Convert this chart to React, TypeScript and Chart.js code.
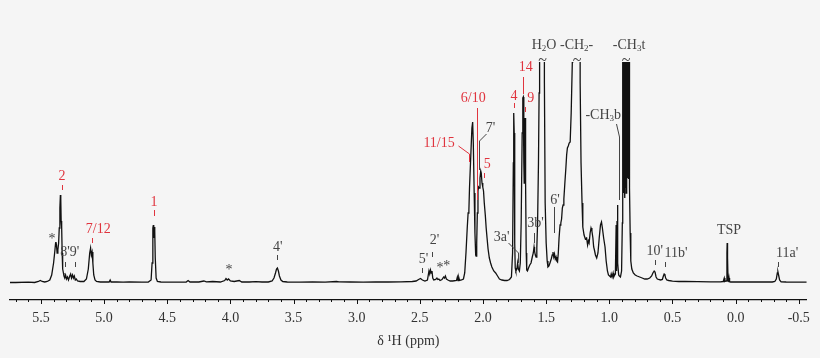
import { useEffect, useRef } from 'react';
import { Chart, registerables } from 'chart.js';

Chart.register(...registerables);

// ---- data: [chemical shift (ppm), intensity] ----
const SPECTRUM: [number, number][] = [
  [5.745, 0.5], [5.7, 0.5], [5.6, 0.8], [5.55, 0.5], [5.52, 1.5], [5.505, 2.5], [5.49, 1.5], [5.47, 1],
  [5.45, 1.5], [5.43, 3], [5.415, 8], [5.4, 20], [5.39, 32], [5.384, 40], [5.381, 41], [5.377, 38],
  [5.372, 30], [5.366, 33], [5.36, 40], [5.355, 55], [5.35, 75], [5.346, 88], [5.343, 84], [5.34, 62],
  [5.336, 56], [5.332, 30], [5.328, 14], [5.322, 10], [5.318, 7], [5.312, 5], [5.305, 8], [5.298, 4],
  [5.29, 6], [5.282, 3], [5.272, 7], [5.265, 9], [5.258, 5], [5.25, 8], [5.243, 5], [5.236, 7],
  [5.228, 3], [5.22, 4], [5.21, 2], [5.19, 1.5], [5.16, 1.5], [5.14, 4], [5.125, 14], [5.114, 30],
  [5.107, 35], [5.101, 28], [5.095, 31], [5.089, 20], [5.082, 8], [5.072, 3], [5.06, 1.5], [5.03, 1],
  [5.0, 1.2], [4.96, 1], [4.952, 3], [4.945, 1], [4.9, 1], [4.85, 0.8], [4.8, 1], [4.7, 0.8],
  [4.65, 1], [4.628, 3], [4.62, 20], [4.614, 55], [4.61, 58], [4.607, 45], [4.603, 56], [4.599, 52],
  [4.595, 25], [4.588, 5], [4.578, 1.5], [4.55, 1], [4.45, 0.8], [4.35, 1], [4.335, 2.5], [4.32, 1],
  [4.25, 1], [4.21, 2], [4.19, 1.2], [4.14, 1.5], [4.08, 1], [4.045, 2.5], [4.035, 4.5], [4.025, 3],
  [4.015, 4], [4.0, 2], [3.97, 1.5], [3.93, 2.5], [3.91, 1], [3.85, 1], [3.8, 1.3], [3.75, 1],
  [3.7, 1], [3.67, 2], [3.655, 5], [3.643, 10], [3.635, 14], [3.628, 15], [3.62, 12], [3.612, 7],
  [3.6, 3], [3.585, 1.5], [3.55, 1], [3.45, 0.8], [3.35, 1], [3.25, 0.8], [3.16, 1.5], [3.14, 1.2],
  [3.05, 1], [2.95, 0.8], [2.85, 1], [2.75, 1], [2.65, 1.2], [2.56, 1.5], [2.53, 2], [2.51, 3.5],
  [2.495, 4.5], [2.48, 3], [2.46, 2], [2.44, 3], [2.428, 12], [2.422, 9], [2.416, 13], [2.41, 10],
  [2.404, 12], [2.398, 5], [2.39, 3], [2.375, 3.5], [2.365, 5], [2.358, 3.5], [2.35, 4], [2.34, 2.5],
  [2.325, 3.5], [2.312, 6], [2.305, 5], [2.298, 7], [2.29, 4], [2.278, 3], [2.26, 2], [2.24, 2],
  [2.21, 2.5], [2.203, 6], [2.198, 2.5], [2.192, 5.5], [2.186, 2.5], [2.17, 3], [2.155, 4], [2.145, 10],
  [2.135, 30], [2.125, 55], [2.118, 70], [2.112, 72], [2.107, 95], [2.096, 130], [2.088, 155], [2.082, 161],
  [2.077, 140], [2.07, 90], [2.064, 50], [2.058, 28], [2.055, 27], [2.05, 40], [2.045, 70], [2.04, 92],
  [2.035, 96], [2.03, 95], [2.024, 105], [2.018, 112], [2.014, 110], [2.008, 100], [2.002, 96], [1.996, 92],
  [1.99, 80], [1.982, 68], [1.975, 55], [1.968, 45], [1.96, 34], [1.95, 25], [1.94, 20], [1.93, 16],
  [1.915, 12], [1.9, 10], [1.885, 7], [1.87, 4], [1.85, 3], [1.83, 2.5], [1.81, 2.5], [1.79, 3.5],
  [1.775, 6], [1.766, 30], [1.76, 120], [1.757, 170], [1.753, 150], [1.749, 40], [1.745, 15], [1.74, 12],
  [1.732, 14], [1.726, 20], [1.72, 14], [1.712, 12], [1.705, 20], [1.698, 60], [1.69, 150], [1.685, 185],
  [1.681, 186], [1.677, 120], [1.674, 100], [1.67, 160], [1.667, 165], [1.663, 100], [1.658, 30], [1.654, 13],
  [1.648, 12], [1.64, 15], [1.63, 18], [1.62, 20], [1.61, 26], [1.602, 30], [1.596, 36], [1.592, 32],
  [1.586, 28], [1.58, 26], [1.574, 35], [1.568, 60], [1.561, 120], [1.556, 190], [1.552, 260], [1.548, 1500],
  [1.52, 1500], [1.514, 200], [1.508, 80], [1.5, 40], [1.492, 22], [1.486, 16], [1.478, 17], [1.47, 20],
  [1.46, 24], [1.452, 28], [1.446, 31], [1.44, 26], [1.434, 29], [1.428, 24], [1.422, 26], [1.416, 22],
  [1.41, 21], [1.404, 30], [1.398, 45], [1.39, 58], [1.384, 60], [1.378, 64], [1.372, 75], [1.366, 78],
  [1.36, 84], [1.352, 100], [1.344, 115], [1.338, 128], [1.332, 135], [1.325, 137], [1.318, 140], [1.31, 141],
  [1.302, 170], [1.293, 221], [1.29, 1500], [1.235, 1500], [1.231, 200], [1.224, 120], [1.216, 80], [1.21, 56],
  [1.2, 48], [1.19, 44], [1.18, 45], [1.172, 38], [1.166, 42], [1.16, 40], [1.152, 50], [1.145, 55],
  [1.138, 52], [1.13, 45], [1.124, 36], [1.118, 33], [1.11, 28], [1.1, 25], [1.09, 30], [1.08, 45],
  [1.07, 58], [1.062, 61], [1.055, 55], [1.045, 45], [1.034, 36], [1.025, 22], [1.015, 12], [1.007, 8],
  [0.998, 7], [0.99, 6], [0.985, 9], [0.978, 6], [0.97, 10], [0.965, 6], [0.958, 8], [0.952, 9],
  [0.946, 58], [0.943, 12], [0.939, 62], [0.936, 78], [0.932, 20], [0.926, 8], [0.92, 7], [0.912, 6],
  [0.903, 12], [0.897, 60], [0.894, 1500], [0.8915, 95], [0.889, 1500], [0.8865, 90], [0.884, 1500], [0.8815, 100],
  [0.879, 1500], [0.8765, 85], [0.874, 1500], [0.8715, 95], [0.869, 1500], [0.8665, 90], [0.864, 1500], [0.8615, 100],
  [0.859, 1500], [0.8565, 105], [0.854, 1500], [0.8515, 108], [0.849, 1200], [0.8465, 104], [0.844, 600], [0.8415, 106],
  [0.839, 95], [0.835, 50], [0.83, 22], [0.822, 14], [0.81, 10], [0.795, 8], [0.78, 7],
  [0.76, 6], [0.74, 5], [0.72, 4], [0.7, 4], [0.68, 5], [0.665, 7], [0.655, 10], [0.645, 12],
  [0.638, 11], [0.63, 6], [0.62, 4], [0.61, 3.5], [0.595, 3], [0.58, 3.5], [0.572, 7], [0.566, 9],
  [0.56, 8], [0.554, 5], [0.545, 3], [0.53, 2.5], [0.5, 1.8], [0.45, 1.5], [0.4, 1.5], [0.3, 1.3],
  [0.2, 1.2], [0.12, 1.2], [0.1, 1.5], [0.095, 3], [0.09, 5], [0.085, 1.5], [0.074, 2], [0.069, 30],
  [0.067, 40], [0.064, 25], [0.06, 2], [0.055, 1.5], [0.052, 5], [0.048, 1.5], [0.04, 1], [0.0, 1],
  [-0.1, 1], [-0.2, 1], [-0.29, 1], [-0.31, 1.5], [-0.322, 4], [-0.33, 10], [-0.335, 11], [-0.34, 8],
  [-0.348, 3], [-0.36, 1.2], [-0.4, 1], [-0.5, 0.8], [-0.563, 0.8],
];

const X_TICKS = [5.5, 5.0, 4.5, 4.0, 3.5, 3.0, 2.5, 2.0, 1.5, 1.0, 0.5, 0.0, -0.5];
const X_TITLE = 'δ ¹H (ppm)';

// ---- layout / style ----
const X_MIN = -0.563;
const X_MAX = 5.745;
const Y_MIN = -17;
const Y_MAX = 221;
const BG = '#f5f5f5';
const GRAY = '#444444';
const RED = '#e0343e';
const FONT = '"Liberation Serif", "Times New Roman", serif';

type Part = { t: string; sub?: boolean };
type Ann = { parts: Part[]; ppm: number; y: number; red?: boolean; size?: number; lines?: [number, number][][] };

const P = (t: string): Part[] => [{ t }];

const ANNOTATIONS: Ann[] = [
  { parts: P('*'), ppm: 5.413, y: 239 },
  { parts: P('2'), ppm: 5.334, y: 176, red: true, lines: [[[5.334, 185], [5.334, 190]]] },
  { parts: P("8'9'"), ppm: 5.272, y: 252, lines: [[[5.31, 262], [5.31, 267]], [[5.23, 262], [5.23, 267]]] },
  { parts: P('7/12'), ppm: 5.046, y: 229, red: true, lines: [[[5.096, 238], [5.096, 243]]] },
  { parts: P('1'), ppm: 4.605, y: 202, red: true, lines: [[[4.605, 210], [4.605, 216]]] },
  { parts: P('*'), ppm: 4.011, y: 270 },
  { parts: P("4'"), ppm: 3.625, y: 247, lines: [[[3.631, 255], [3.631, 260]]] },
  { parts: P("5'"), ppm: 2.472, y: 259, lines: [[[2.486, 268], [2.486, 273]]] },
  { parts: P("2'"), ppm: 2.385, y: 240, lines: [[[2.407, 252], [2.407, 257]]] },
  { parts: P('*'), ppm: 2.341, y: 268 },
  { parts: P('*'), ppm: 2.288, y: 266 },
  { parts: P('11/15'), ppm: 2.348, y: 143, red: true, lines: [[[2.196, 146], [2.111, 154], [2.111, 162]]] },
  { parts: P("7'"), ppm: 1.94, y: 128, lines: [[[1.98, 134], [2.03, 141], [2.03, 170]]] },
  { parts: P('6/10'), ppm: 2.077, y: 98, red: true, lines: [[[2.046, 108], [2.046, 200]]] },
  { parts: P('5'), ppm: 1.966, y: 164, red: true, lines: [[[1.99, 173], [1.99, 178]]] },
  { parts: P('4'), ppm: 1.755, y: 96, red: true, lines: [[[1.755, 103], [1.755, 108]]] },
  { parts: P('14'), ppm: 1.662, y: 67, red: true, lines: [[[1.684, 77], [1.684, 94]]] },
  { parts: P('9'), ppm: 1.623, y: 98, red: true, lines: [[[1.668, 107], [1.668, 112]]] },
  { parts: P("3a'"), ppm: 1.853, y: 237, lines: [[[1.8, 243], [1.726, 253], [1.726, 263]]] },
  { parts: P("3b'"), ppm: 1.585, y: 223, lines: [[[1.594, 233], [1.594, 243]]] },
  { parts: [{ t: 'H' }, { t: '2', sub: true }, { t: 'O' }], ppm: 1.517, y: 45 },
  { parts: P('~'), ppm: 1.528, y: 61, size: 16 },
  { parts: [{ t: '-CH' }, { t: '2', sub: true }, { t: '-' }], ppm: 1.259, y: 45 },
  { parts: P('~'), ppm: 1.256, y: 61, size: 16 },
  { parts: [{ t: '-CH' }, { t: '3', sub: true }, { t: 't' }], ppm: 0.844, y: 45 },
  { parts: P('~'), ppm: 0.868, y: 61, size: 16 },
  { parts: [{ t: '-CH' }, { t: '3', sub: true }, { t: 'b' }], ppm: 1.048, y: 115, lines: [[[0.947, 124], [0.924, 137], [0.924, 200]]] },
  { parts: P("6'"), ppm: 1.43, y: 200, lines: [[[1.438, 207], [1.438, 233]]] },
  { parts: P("10'"), ppm: 0.641, y: 251, lines: [[[0.639, 260], [0.639, 265]]] },
  { parts: P("11b'"), ppm: 0.472, y: 253, lines: [[[0.557, 262], [0.557, 267]]] },
  { parts: P('TSP'), ppm: 0.053, y: 230 },
  { parts: P("11a'"), ppm: -0.407, y: 253, lines: [[[-0.338, 262], [-0.338, 267]]] },
];

const bgPlugin = {
  id: 'bg',
  beforeDraw(chart: any) {
    const { ctx, width, height } = chart;
    ctx.save();
    ctx.fillStyle = BG;
    ctx.fillRect(0, 0, width, height);
    ctx.restore();
  },
};

const tickPlugin = {
  id: 'ppmTicks',
  afterDraw(chart: any) {
    const { ctx } = chart;
    const xs = chart.scales.x;
    const y0 = chart.chartArea.bottom;
    ctx.save();
    ctx.strokeStyle = '#111';
    ctx.lineWidth = 1;
    for (let i = -5; i <= 57; i++) {
      const v = i / 10;
      if (v < X_MIN || v > X_MAX) continue;
      const px = Math.round(xs.getPixelForValue(v)) + 0.5;
      const len = i % 5 === 0 ? 4 : 2;
      ctx.beginPath();
      ctx.moveTo(px, y0);
      ctx.lineTo(px, y0 + len);
      ctx.stroke();
    }
    ctx.restore();
  },
};

const annotationPlugin = {
  id: 'peakLabels',
  afterDraw(chart: any) {
    const { ctx } = chart;
    const xs = chart.scales.x;
    ctx.save();
    for (const a of ANNOTATIONS) {
      const color = a.red ? RED : GRAY;
      ctx.strokeStyle = color;
      ctx.lineWidth = 1;
      for (const pl of a.lines ?? []) {
        ctx.beginPath();
        pl.forEach(([p, y], i) => {
          const X = Math.round(xs.getPixelForValue(p)) + 0.5;
          if (i === 0) ctx.moveTo(X, y);
          else ctx.lineTo(X, y);
        });
        ctx.stroke();
      }
      const size = a.size ?? 14;
      const mainFont = `${size}px ${FONT}`;
      const subFont = `9px ${FONT}`;
      let total = 0;
      const widths = a.parts.map((p) => {
        ctx.font = p.sub ? subFont : mainFont;
        const w = ctx.measureText(p.t).width;
        total += w;
        return w;
      });
      let x = xs.getPixelForValue(a.ppm) - total / 2;
      ctx.fillStyle = color;
      ctx.textAlign = 'left';
      ctx.textBaseline = 'middle';
      a.parts.forEach((p, i) => {
        ctx.font = p.sub ? subFont : mainFont;
        ctx.fillText(p.t, x, p.sub ? a.y + 4 : a.y);
        x += widths[i];
      });
    }
    ctx.restore();
  },
};

export default function App() {
  const ref = useRef<HTMLCanvasElement>(null);

  useEffect(() => {
    if (!ref.current) return;
    Chart.defaults.font.family = FONT;
    const chart = new Chart(ref.current, {
      type: 'line',
      data: {
        datasets: [
          {
            data: SPECTRUM.map(([x, y]) => ({ x, y })),
            borderColor: '#111111',
            borderWidth: 1.3,
            pointRadius: 0,
            tension: 0,
            fill: false,
          },
        ],
      },
      options: {
        animation: false,
        responsive: false,
        devicePixelRatio: 1,
        events: [],
        layout: { padding: { left: 10, right: 13, top: 62, bottom: 0 } },
        plugins: { legend: { display: false }, tooltip: { enabled: false } },
        scales: {
          x: {
            type: 'linear',
            reverse: true,
            min: X_MIN,
            max: X_MAX,
            afterBuildTicks: (s: any) => {
              s.ticks = X_TICKS.map((v) => ({ value: v }));
            },
            afterFit: (s: any) => {
              s.height = 58;
            },
            ticks: {
              callback: (v: any) => Number(v).toFixed(1),
              font: { size: 14, family: FONT },
              color: '#333333',
              padding: 10,
              maxRotation: 0,
              autoSkip: false,
            },
            grid: { display: false, drawTicks: false },
            border: { display: true, color: '#111111', width: 1.2 },
            title: {
              display: true,
              text: X_TITLE,
              font: { size: 14, family: FONT },
              color: '#333333',
              padding: { top: 0, bottom: 8 },
            },
          },
          y: { display: false, min: Y_MIN, max: Y_MAX },
        },
      },
      plugins: [bgPlugin, tickPlugin, annotationPlugin],
    } as any);
    return () => chart.destroy();
  }, []);

  return (
    <div style={{ position: 'fixed', left: 0, top: 0, width: 820, height: 358 }}>
      <canvas ref={ref} width={820} height={358} style={{ display: 'block', width: 820, height: 358 }} />
    </div>
  );
}
